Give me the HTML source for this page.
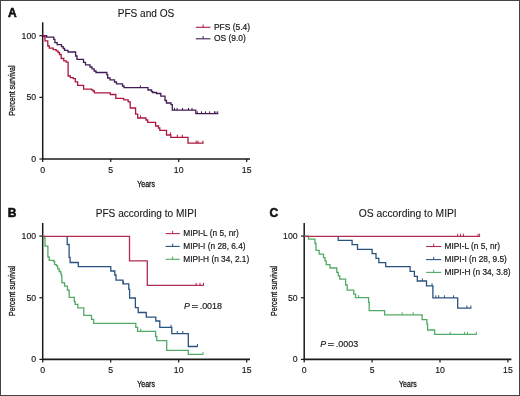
<!DOCTYPE html>
<html><head><meta charset="utf-8"><style>
html,body{margin:0;padding:0;background:#fff;}
body{width:520px;height:396px;overflow:hidden;font-family:"Liberation Sans", sans-serif;}
svg{display:block;will-change:transform;}
</style></head><body>
<svg width="520" height="396" viewBox="0 0 520 396">
<rect width="520" height="396" fill="#fff"/>
<text x="7.9" y="16.5" font-family='"Liberation Sans", sans-serif' font-size="12" font-weight="bold" fill="#111" stroke="#111" stroke-width="0.55">A</text><text x="146" y="16.8" font-family='"Liberation Sans", sans-serif' font-size="10.1" fill="#151515" stroke="#151515" stroke-width="0.08" text-anchor="middle">PFS and OS</text><g stroke="#1a1a1a" fill="none"><line x1="42.7" y1="22.3" x2="42.7" y2="159.8" stroke-width="1.5"/><line x1="42.0" y1="159.0" x2="250.0" y2="159.0" stroke-width="1.6"/><line x1="39.400000000000006" y1="35.7" x2="42.7" y2="35.7" stroke-width="1.2"/><line x1="39.400000000000006" y1="97.35" x2="42.7" y2="97.35" stroke-width="1.2"/><line x1="39.400000000000006" y1="159.0" x2="42.7" y2="159.0" stroke-width="1.2"/><line x1="42.7" y1="159.0" x2="42.7" y2="162.0" stroke-width="1.2"/><line x1="110.7" y1="159.0" x2="110.7" y2="162.0" stroke-width="1.2"/><line x1="178.7" y1="159.0" x2="178.7" y2="162.0" stroke-width="1.2"/><line x1="246.7" y1="159.0" x2="246.7" y2="162.0" stroke-width="1.2"/></g><g font-family='"Liberation Sans", sans-serif' font-size="8.7" fill="#151515" stroke="#151515" stroke-width="0.15"><text x="36.1" y="38.6" text-anchor="end">100</text><text x="36.1" y="100.25" text-anchor="end">50</text><text x="36.1" y="161.9" text-anchor="end">0</text><text x="42.7" y="172.7" text-anchor="middle">0</text><text x="110.7" y="172.7" text-anchor="middle">5</text><text x="178.7" y="172.7" text-anchor="middle">10</text><text x="246.7" y="172.7" text-anchor="middle">15</text></g><text transform="translate(146.1 186.8) scale(0.775 1)" font-family='"Liberation Sans", sans-serif' font-size="9" fill="#151515" stroke="#151515" stroke-width="0.3" text-anchor="middle">Years</text><text transform="translate(14.9 90.6) rotate(-90) scale(0.727 1)" font-family='"Liberation Sans", sans-serif' font-size="9.7" fill="#151515" stroke="#151515" stroke-width="0.3" text-anchor="middle">Percent survival</text><path d="M42.7 35.7H46.6V37.1H53.8V39.3H54.9V42.6H57.2V44.6H61.5V46.6H63.2V48.5H64.6V50.4H68.0V52.0H75.6V56.0H77.0V59.3H83.5V62.3H85.5V64.8H90.0V67.0H92.0V68.8H94.2V71.0H96.0V72.5H106.8V74.6H107.7V78.0H110.0V79.8H114.5V82.0H116.5V83.8H122.5V86.0H124.0V87.7H148.0V90.0H151.5V91.5H152.7V92.5H156.5V93.5H160.8V96.2H165.0V100.5H166.5V103.0H171.0V104.6H172.3V110.2H195.8V113.6H218.3" fill="none" stroke="#421a56" stroke-width="1.3"/><line x1="140.4" y1="87.7" x2="140.4" y2="85.4" stroke="#421a56" stroke-width="1.0"/><line x1="174.5" y1="110.2" x2="174.5" y2="107.9" stroke="#421a56" stroke-width="1.0"/><line x1="177.1" y1="110.2" x2="177.1" y2="107.9" stroke="#421a56" stroke-width="1.0"/><line x1="182.5" y1="110.2" x2="182.5" y2="107.9" stroke="#421a56" stroke-width="1.0"/><line x1="188.5" y1="110.2" x2="188.5" y2="107.9" stroke="#421a56" stroke-width="1.0"/><line x1="192.0" y1="110.2" x2="192.0" y2="107.9" stroke="#421a56" stroke-width="1.0"/><line x1="197.3" y1="113.6" x2="197.3" y2="111.3" stroke="#421a56" stroke-width="1.0"/><line x1="201.5" y1="113.6" x2="201.5" y2="111.3" stroke="#421a56" stroke-width="1.0"/><line x1="205.4" y1="113.6" x2="205.4" y2="111.3" stroke="#421a56" stroke-width="1.0"/><line x1="209.6" y1="113.6" x2="209.6" y2="111.3" stroke="#421a56" stroke-width="1.0"/><line x1="214.4" y1="113.6" x2="214.4" y2="111.3" stroke="#421a56" stroke-width="1.0"/><line x1="215.9" y1="113.6" x2="215.9" y2="111.3" stroke="#421a56" stroke-width="1.0"/><line x1="217.7" y1="113.6" x2="217.7" y2="111.3" stroke="#421a56" stroke-width="1.0"/><path d="M42.7 35.7H43.8V36.6H45.0V40.8H47.8V46.0H49.3V48.2H53.2V49.7H56.2V50.9H58.0V52.5H59.5V54.5H61.2V58.5H63.8V60.8H66.2V62.2H68.1V76.0H70.3V77.6H73.3V78.6H75.3V81.9H77.6V85.4H83.6V89.1H91.5V89.8H93.0V91.0H94.4V92.8H110.3V94.5H115.8V98.4H123.8V99.8H128.2V101.8H130.2V108.0H135.6V114.2H137.7V118.0H146.0V120.0H147.7V122.3H155.6V126.0H158.5V128.0H159.8V130.4H166.5V135.0H170.8V137.3H188.0V143.2H203.5" fill="none" stroke="#ad173e" stroke-width="1.3"/><line x1="140.5" y1="118" x2="140.5" y2="115.4" stroke="#ad173e" stroke-width="1.0"/><line x1="170.4" y1="135" x2="170.4" y2="132.4" stroke="#ad173e" stroke-width="1.0"/><line x1="177.3" y1="137.3" x2="177.3" y2="134.70000000000002" stroke="#ad173e" stroke-width="1.0"/><line x1="182.3" y1="137.3" x2="182.3" y2="134.70000000000002" stroke="#ad173e" stroke-width="1.0"/><line x1="196.2" y1="143.2" x2="196.2" y2="140.6" stroke="#ad173e" stroke-width="1.0"/><line x1="198" y1="143.2" x2="198" y2="140.6" stroke="#ad173e" stroke-width="1.0"/><line x1="203.0" y1="143.2" x2="203.0" y2="140.6" stroke="#ad173e" stroke-width="1.0"/><line x1="195.8" y1="27.3" x2="210.4" y2="27.3" stroke="#ad173e" stroke-width="1.1"/><line x1="203.10000000000002" y1="27.3" x2="203.10000000000002" y2="24.5" stroke="#ad173e" stroke-width="1"/><text x="213.9" y="29.85" font-family='"Liberation Sans", sans-serif' font-size="8.45" fill="#151515" stroke="#151515" stroke-width="0.18">PFS (5.4)</text><line x1="195.8" y1="38.8" x2="210.4" y2="38.8" stroke="#421a56" stroke-width="1.1"/><line x1="203.10000000000002" y1="38.8" x2="203.10000000000002" y2="36.0" stroke="#421a56" stroke-width="1"/><text x="213.9" y="41.349999999999994" font-family='"Liberation Sans", sans-serif' font-size="8.45" fill="#151515" stroke="#151515" stroke-width="0.18">OS (9.0)</text><text x="7.8" y="216.7" font-family='"Liberation Sans", sans-serif' font-size="12" font-weight="bold" fill="#111" stroke="#111" stroke-width="0.55">B</text><text x="146.2" y="217.3" font-family='"Liberation Sans", sans-serif' font-size="10.1" fill="#151515" stroke="#151515" stroke-width="0.08" text-anchor="middle">PFS according to MIPI</text><g stroke="#1a1a1a" fill="none"><line x1="42.7" y1="223.0" x2="42.7" y2="360.2" stroke-width="1.5"/><line x1="42.0" y1="359.4" x2="250.0" y2="359.4" stroke-width="1.6"/><line x1="39.400000000000006" y1="236.1" x2="42.7" y2="236.1" stroke-width="1.2"/><line x1="39.400000000000006" y1="297.75" x2="42.7" y2="297.75" stroke-width="1.2"/><line x1="39.400000000000006" y1="359.4" x2="42.7" y2="359.4" stroke-width="1.2"/><line x1="42.7" y1="359.4" x2="42.7" y2="362.4" stroke-width="1.2"/><line x1="110.7" y1="359.4" x2="110.7" y2="362.4" stroke-width="1.2"/><line x1="178.7" y1="359.4" x2="178.7" y2="362.4" stroke-width="1.2"/><line x1="246.7" y1="359.4" x2="246.7" y2="362.4" stroke-width="1.2"/></g><g font-family='"Liberation Sans", sans-serif' font-size="8.7" fill="#151515" stroke="#151515" stroke-width="0.15"><text x="36.1" y="239.0" text-anchor="end">100</text><text x="36.1" y="300.65" text-anchor="end">50</text><text x="36.1" y="362.29999999999995" text-anchor="end">0</text><text x="42.7" y="373.09999999999997" text-anchor="middle">0</text><text x="110.7" y="373.09999999999997" text-anchor="middle">5</text><text x="178.7" y="373.09999999999997" text-anchor="middle">10</text><text x="246.7" y="373.09999999999997" text-anchor="middle">15</text></g><text transform="translate(146.1 387.0) scale(0.775 1)" font-family='"Liberation Sans", sans-serif' font-size="9" fill="#151515" stroke="#151515" stroke-width="0.3" text-anchor="middle">Years</text><text transform="translate(14.9 290.9) rotate(-90) scale(0.727 1)" font-family='"Liberation Sans", sans-serif' font-size="9.7" fill="#151515" stroke="#151515" stroke-width="0.3" text-anchor="middle">Percent survival</text><path d="M42.7 236.1H44.2V238.0H45.0V246.2H47.9V257.0H49.2V260.4H53.8V261.5H54.6V264.6H56.5V265.8H57.7V268.8H59.2V271.5H60.8V273.8H61.5V276.2H61.9V282.7H64.3V283.5H64.6V286.2H67.4V290.0H68.8V290.8H69.2V297.4H74.3V301.5H75.2V304.4H77.8V307.9H83.8V315.4H91.5V319.4H93.6V323.4H135.8V327.3H137.6V331.3H155.6V336.5H156.8V340.6H166.7V350.4H188.3V354.4H203.3" fill="none" stroke="#52aa66" stroke-width="1.3"/><line x1="140.7" y1="331.3" x2="140.7" y2="328.7" stroke="#52aa66" stroke-width="1.0"/><line x1="203.0" y1="354.4" x2="203.0" y2="351.79999999999995" stroke="#52aa66" stroke-width="1.0"/><path d="M67.2 236.1H67.2V244.5H69.1V257.4H70.1V262.5H78.3V266.6H110.8V271.0H114.8V275.0H116.0V280.2H122.9V283.8H128.8V289.4H129.6V298.0H135.4V307.7H138.2V312.5H146.3V317.1H155.8V321.0H159.8V327.3H171.8V333.6H188.3V346.5H197.8" fill="none" stroke="#2a5281" stroke-width="1.3"/><line x1="123.5" y1="283.8" x2="123.5" y2="281.2" stroke="#2a5281" stroke-width="1.0"/><line x1="171" y1="327.3" x2="171" y2="324.7" stroke="#2a5281" stroke-width="1.0"/><line x1="177.3" y1="333.6" x2="177.3" y2="331.0" stroke="#2a5281" stroke-width="1.0"/><line x1="182.8" y1="333.6" x2="182.8" y2="331.0" stroke="#2a5281" stroke-width="1.0"/><line x1="197.5" y1="346.5" x2="197.5" y2="343.9" stroke="#2a5281" stroke-width="1.0"/><path d="M42.7 236.3H129.5V260.8H147.3V285.4H203.9" fill="none" stroke="#b02c50" stroke-width="1.3"/><line x1="196.1" y1="285.4" x2="196.1" y2="282.79999999999995" stroke="#b02c50" stroke-width="1.0"/><line x1="200" y1="285.4" x2="200" y2="282.79999999999995" stroke="#b02c50" stroke-width="1.0"/><line x1="203.5" y1="285.4" x2="203.5" y2="282.79999999999995" stroke="#b02c50" stroke-width="1.0"/><line x1="165.6" y1="233.6" x2="179.7" y2="233.6" stroke="#b02c50" stroke-width="1.1"/><line x1="172.64999999999998" y1="233.6" x2="172.64999999999998" y2="230.79999999999998" stroke="#b02c50" stroke-width="1"/><text x="183.3" y="236.45" font-family='"Liberation Sans", sans-serif' font-size="8.3" fill="#151515" stroke="#151515" stroke-width="0.18">MIPI-L (n 5, nr)</text><line x1="165.6" y1="246.4" x2="179.7" y2="246.4" stroke="#2a5281" stroke-width="1.1"/><line x1="172.64999999999998" y1="246.4" x2="172.64999999999998" y2="243.6" stroke="#2a5281" stroke-width="1"/><text x="183.3" y="249.25" font-family='"Liberation Sans", sans-serif' font-size="8.3" fill="#151515" stroke="#151515" stroke-width="0.18">MIPI-I (n 28, 6.4)</text><line x1="165.6" y1="259.3" x2="179.7" y2="259.3" stroke="#52aa66" stroke-width="1.1"/><line x1="172.64999999999998" y1="259.3" x2="172.64999999999998" y2="256.5" stroke="#52aa66" stroke-width="1"/><text x="183.3" y="262.15000000000003" font-family='"Liberation Sans", sans-serif' font-size="8.3" fill="#151515" stroke="#151515" stroke-width="0.18">MIPI-H (n 34, 2.1)</text><text x="184.1" y="308.7" font-family='"Liberation Sans", sans-serif' font-size="8.8" font-style="italic" fill="#151515" stroke="#151515" stroke-width="0.15">P</text><text transform="translate(194.9 308.7) scale(1.22 1)" font-family='"Liberation Sans", sans-serif' font-size="8.8" fill="#151515" stroke="#151515" stroke-width="0.35" text-anchor="middle">=</text><text x="199.7" y="308.7" font-family='"Liberation Sans", sans-serif' font-size="8.8" fill="#151515" stroke="#151515" stroke-width="0.15" textLength="22.3" lengthAdjust="spacingAndGlyphs">.0018</text><text x="269.5" y="216.7" font-family='"Liberation Sans", sans-serif' font-size="12" font-weight="bold" fill="#111" stroke="#111" stroke-width="0.55">C</text><text x="407.8" y="217.3" font-family='"Liberation Sans", sans-serif' font-size="10.3" fill="#151515" stroke="#151515" stroke-width="0.08" text-anchor="middle">OS according to MIPI</text><g stroke="#1a1a1a" fill="none"><line x1="304.2" y1="223.0" x2="304.2" y2="360.2" stroke-width="1.5"/><line x1="303.5" y1="359.4" x2="511.4" y2="359.4" stroke-width="1.6"/><line x1="300.9" y1="236.1" x2="304.2" y2="236.1" stroke-width="1.2"/><line x1="300.9" y1="297.75" x2="304.2" y2="297.75" stroke-width="1.2"/><line x1="300.9" y1="359.4" x2="304.2" y2="359.4" stroke-width="1.2"/><line x1="304.2" y1="359.4" x2="304.2" y2="362.4" stroke-width="1.2"/><line x1="372.1" y1="359.4" x2="372.1" y2="362.4" stroke-width="1.2"/><line x1="440.0" y1="359.4" x2="440.0" y2="362.4" stroke-width="1.2"/><line x1="507.9" y1="359.4" x2="507.9" y2="362.4" stroke-width="1.2"/></g><g font-family='"Liberation Sans", sans-serif' font-size="8.7" fill="#151515" stroke="#151515" stroke-width="0.15"><text x="297.59999999999997" y="239.0" text-anchor="end">100</text><text x="297.59999999999997" y="300.65" text-anchor="end">50</text><text x="297.59999999999997" y="362.29999999999995" text-anchor="end">0</text><text x="304.2" y="373.09999999999997" text-anchor="middle">0</text><text x="372.1" y="373.09999999999997" text-anchor="middle">5</text><text x="440.0" y="373.09999999999997" text-anchor="middle">10</text><text x="507.9" y="373.09999999999997" text-anchor="middle">15</text></g><text transform="translate(407.9 387.0) scale(0.775 1)" font-family='"Liberation Sans", sans-serif' font-size="9" fill="#151515" stroke="#151515" stroke-width="0.3" text-anchor="middle">Years</text><text transform="translate(276.6 290.9) rotate(-90) scale(0.727 1)" font-family='"Liberation Sans", sans-serif' font-size="9.7" fill="#151515" stroke="#151515" stroke-width="0.3" text-anchor="middle">Percent survival</text><path d="M304.2 236.1H308.5V239.2H315.0V243.5H316.0V250.4H319.2V254.2H323.5V257.7H325.0V260.8H326.2V264.6H330.0V268.0H336.8V272.3H338.3V275.8H339.8V279.2H345.6V285.0H347.2V290.2H353.8V294.2H355.5V297.7H368.6V302.3H369.2V310.6H384.6V314.8H422.1V319.6H426.9V324.2H427.6V330.0H434.6V334.4H476.7" fill="none" stroke="#52aa66" stroke-width="1.3"/><line x1="358.6" y1="297.7" x2="358.6" y2="295.09999999999997" stroke="#52aa66" stroke-width="1.0"/><line x1="402.1" y1="314.8" x2="402.1" y2="312.2" stroke="#52aa66" stroke-width="1.0"/><line x1="413.2" y1="314.8" x2="413.2" y2="312.2" stroke="#52aa66" stroke-width="1.0"/><line x1="450.2" y1="334.4" x2="450.2" y2="331.79999999999995" stroke="#52aa66" stroke-width="1.0"/><line x1="464.6" y1="334.4" x2="464.6" y2="331.79999999999995" stroke="#52aa66" stroke-width="1.0"/><line x1="467.5" y1="334.4" x2="467.5" y2="331.79999999999995" stroke="#52aa66" stroke-width="1.0"/><line x1="476.3" y1="334.4" x2="476.3" y2="331.79999999999995" stroke="#52aa66" stroke-width="1.0"/><path d="M338.2 236.1H338.2V240.3H352.1V244.7H357.5V249.3H372.1V253.7H376.0V258.3H378.8V262.6H385.7V266.6H410.1V271.4H414.4V276.3H417.3V281.0H426.5V285.9H432.9V297.9H457.7V308.1H471.3" fill="none" stroke="#2a5281" stroke-width="1.3"/><line x1="422.4" y1="281.0" x2="422.4" y2="278.4" stroke="#2a5281" stroke-width="1.0"/><line x1="432.0" y1="285.9" x2="432.0" y2="283.29999999999995" stroke="#2a5281" stroke-width="1.0"/><line x1="435.8" y1="297.9" x2="435.8" y2="295.29999999999995" stroke="#2a5281" stroke-width="1.0"/><line x1="438.7" y1="297.9" x2="438.7" y2="295.29999999999995" stroke="#2a5281" stroke-width="1.0"/><line x1="444.4" y1="297.9" x2="444.4" y2="295.29999999999995" stroke="#2a5281" stroke-width="1.0"/><line x1="453.6" y1="297.9" x2="453.6" y2="295.29999999999995" stroke="#2a5281" stroke-width="1.0"/><line x1="466.9" y1="308.1" x2="466.9" y2="305.5" stroke="#2a5281" stroke-width="1.0"/><line x1="470.9" y1="308.1" x2="470.9" y2="305.5" stroke="#2a5281" stroke-width="1.0"/><path d="M304.2 236.3H480.0" fill="none" stroke="#b02c50" stroke-width="1.3"/><line x1="457.7" y1="236.3" x2="457.7" y2="233.70000000000002" stroke="#b02c50" stroke-width="1.0"/><line x1="460.6" y1="236.3" x2="460.6" y2="233.70000000000002" stroke="#b02c50" stroke-width="1.0"/><line x1="463.4" y1="236.3" x2="463.4" y2="233.70000000000002" stroke="#b02c50" stroke-width="1.0"/><line x1="478.0" y1="236.3" x2="478.0" y2="233.70000000000002" stroke="#b02c50" stroke-width="1.0"/><line x1="479.6" y1="236.3" x2="479.6" y2="233.70000000000002" stroke="#b02c50" stroke-width="1.0"/><line x1="426.1" y1="246.5" x2="441.3" y2="246.5" stroke="#b02c50" stroke-width="1.1"/><line x1="433.70000000000005" y1="246.5" x2="433.70000000000005" y2="243.7" stroke="#b02c50" stroke-width="1"/><text x="444.6" y="249.35" font-family='"Liberation Sans", sans-serif' font-size="8.3" fill="#151515" stroke="#151515" stroke-width="0.18">MIPI-L (n 5, nr)</text><line x1="426.1" y1="259.6" x2="441.3" y2="259.6" stroke="#2a5281" stroke-width="1.1"/><line x1="433.70000000000005" y1="259.6" x2="433.70000000000005" y2="256.8" stroke="#2a5281" stroke-width="1"/><text x="444.6" y="262.45000000000005" font-family='"Liberation Sans", sans-serif' font-size="8.3" fill="#151515" stroke="#151515" stroke-width="0.18">MIPI-I (n 28, 9.5)</text><line x1="426.1" y1="272.4" x2="441.3" y2="272.4" stroke="#52aa66" stroke-width="1.1"/><line x1="433.70000000000005" y1="272.4" x2="433.70000000000005" y2="269.59999999999997" stroke="#52aa66" stroke-width="1"/><text x="444.6" y="275.25" font-family='"Liberation Sans", sans-serif' font-size="8.3" fill="#151515" stroke="#151515" stroke-width="0.18">MIPI-H (n 34, 3.8)</text><text x="320.2" y="346.5" font-family='"Liberation Sans", sans-serif' font-size="8.8" font-style="italic" fill="#151515" stroke="#151515" stroke-width="0.15">P</text><text transform="translate(331.0 346.5) scale(1.22 1)" font-family='"Liberation Sans", sans-serif' font-size="8.8" fill="#151515" stroke="#151515" stroke-width="0.35" text-anchor="middle">=</text><text x="335.8" y="346.5" font-family='"Liberation Sans", sans-serif' font-size="8.8" fill="#151515" stroke="#151515" stroke-width="0.15" textLength="22.3" lengthAdjust="spacingAndGlyphs">.0003</text><rect x="0.5" y="0.5" width="519" height="395" fill="none" stroke="#444" stroke-width="1"/>
</svg>
</body></html>
